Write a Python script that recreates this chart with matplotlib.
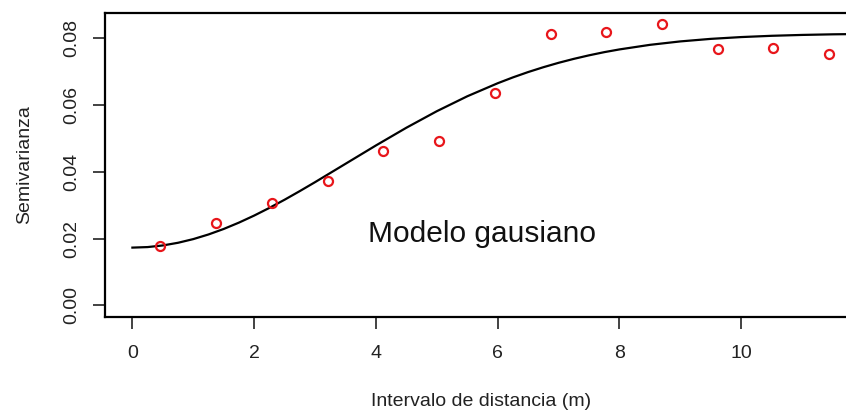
import matplotlib
matplotlib.use("Agg")
import matplotlib.pyplot as plt

# empirical semivariogram (points)
lag = [0.45, 1.37, 2.29, 3.21, 4.12, 5.03, 5.95, 6.87, 7.78, 8.70, 9.61, 10.52, 11.44]
semivar = [0.0179, 0.0246, 0.0306, 0.0372, 0.0462, 0.0492, 0.0635, 0.0813, 0.0820, 0.0842, 0.0767, 0.0772, 0.0753]

# fitted gaussian model
model_h = [0.0, 0.25, 0.5, 0.75, 1.0, 1.25, 1.5, 1.75, 2.0, 2.25, 2.5, 2.75, 3.0,
           3.5, 4.0, 4.5, 5.0, 5.5, 6.0, 6.25, 6.5, 6.75, 7.0, 7.25, 7.5, 7.75,
           8.0, 8.5, 9.0, 9.5, 10.0, 10.5, 11.0, 11.5, 12.0]
model_g = [0.0173, 0.01746, 0.01795, 0.01875, 0.01985, 0.02124, 0.02289, 0.02479,
           0.02690, 0.02920, 0.03165, 0.03424, 0.03691, 0.04241, 0.04791, 0.05322,
           0.05817, 0.06264, 0.06655, 0.06830, 0.06990, 0.07135, 0.07267, 0.07385,
           0.07491, 0.07586, 0.07668, 0.07805, 0.07908, 0.07984, 0.08038, 0.08076,
           0.08102, 0.08120, 0.08131]

xticks = [0, 2, 4, 6, 8, 10]
yticks = [0.00, 0.02, 0.04, 0.06, 0.08]

plt.rcParams['font.family'] = ['Liberation Sans', 'DejaVu Sans']

fig = plt.figure(figsize=(8.46, 4.11), dpi=100)
ax = fig.add_axes([105/846, 94.3/411, 741/846, 303.4/411])

ax.plot(model_h, model_g, color='black', lw=1.6)
ax.plot(lag, semivar, 'o', mfc='none', mec='#e8161b', ms=6.5, mew=1.6)

ax.text(3.87, 0.01906, 'Modelo gausiano', fontsize=21.5, va='baseline', ha='left', color='#111111')

ax.set_xlim(-0.45, 11.72)
ax.set_ylim(-0.0034, 0.0875)
ax.set_xticks(xticks)
ax.set_xticklabels([str(t) for t in xticks])
ax.set_yticks(yticks)
ax.set_yticklabels(['%.2f' % t for t in yticks])

for s in ['left', 'top', 'bottom']:
    ax.spines[s].set_linewidth(1.6)
ax.spines['right'].set_visible(False)

ax.tick_params(axis='both', direction='out', length=8.6, width=1.2, labelsize=14, colors='#222222')
ax.tick_params(axis='x', pad=12)
ax.tick_params(axis='y', pad=9, labelrotation=90)
for lbl in ax.get_yticklabels():
    lbl.set_va('center')

ax.set_xlabel('Intervalo de distancia (m)', fontsize=14, color='#222222')
ax.xaxis.set_label_coords(0.508, -0.2943)
ax.xaxis.label.set_va('baseline')
ax.set_ylabel('Semivarianza', fontsize=14, color='#222222')
ax.yaxis.set_label_coords(-0.108, 0.5)
ax.yaxis.label.set_va('center')

fig.savefig('out.png', dpi=100)
